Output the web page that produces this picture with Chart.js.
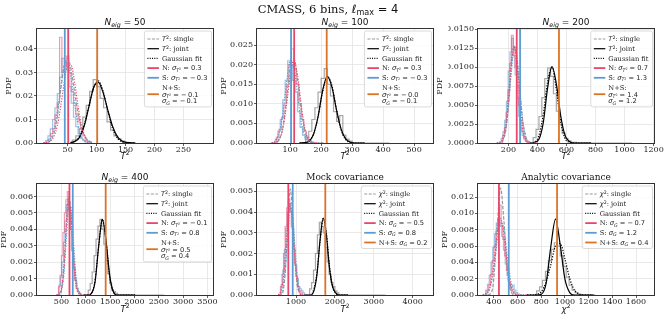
<!DOCTYPE html>
<html><head><meta charset="utf-8">
<script src="https://cdn.jsdelivr.net/npm/chart.js@4.4.1/dist/chart.umd.min.js"></script>
<style>html,body{margin:0;padding:0;background:#fff;}#wrap{position:relative;width:664px;height:320px;}canvas{position:absolute;left:0;top:0;}</style>
</head><body><div id="wrap"></div>
<script>
// ---------------- DATA ----------------
// Panel 1: N_eig = 50
const p1_xTicks=[50,100,150,200,250], p1_yTicks=[0,0.01,0.02,0.03,0.04];
const p1_obs=[51,45,101];
const p1_binN=[16,4], p1_hN=[0.0005,0.0015,0.004,0.006,0.012,0.017,0.045,0.030,0.033,0.037,0.030,0.022,0.017,0.012,0.009,0.006,0.003,0.001,0.0005];
const p1_binS=[12,4], p1_hS=[0.0003,0.001,0.003,0.006,0.010,0.015,0.021,0.028,0.036,0.034,0.031,0.024,0.017,0.011,0.007,0.004,0.002,0.001,0.0004];
const p1_binJ=[58,6], p1_hJ=[0.0005,0.0012,0.0030,0.0060,0.011,0.016,0.022,0.027,0.024,0.019,0.015,0.009,0.0055,0.003,0.0018,0.0008,0.0003,0.0002];
const p1_sx=[8,14,20,26,32,38,44,50,56,62,68,74,80,86,92];
const p1_single=[0.0000,0.0002,0.0010,0.0040,0.0110,0.0225,0.0330,0.0360,0.0310,0.0215,0.0125,0.0062,0.0027,0.0010,0.0003];
const p1_fitN=[0.0000,0.0002,0.0008,0.0027,0.0073,0.0156,0.0257,0.0329,0.0329,0.0257,0.0156,0.0073,0.0027,0.0008,0.0002];
const p1_fitS=[0.0001,0.0004,0.0018,0.0056,0.0133,0.0240,0.0329,0.0345,0.0274,0.0166,0.0077,0.0027,0.0007,0.0002,0.0000];
const p1_jx=[55,63,71,79,87,95,103,111,119,127,135,143,151,159,167];
const p1_joint=[0.0001,0.0007,0.0026,0.0076,0.0158,0.0237,0.0258,0.0216,0.0143,0.0075,0.0031,0.0010,0.0003,0.0001,0.0000];
const p1_fitJ=[0.0002,0.0009,0.0031,0.0082,0.0161,0.0237,0.0264,0.0221,0.0140,0.0066,0.0024,0.0006,0.0001,0.0000,0.0000];
const p1_legend=[['$T^2$: single'],['$T^2$: joint'],['Gaussian fit'],['N: $\\sigma_{T^2} = 0.3$'],['S: $\\sigma_{T^2} = -0.3$'],['N+S:','$\\sigma_{T^2} = -0.1$','$\\sigma_G = -0.1$']];

// Panel 2: N_eig = 100
const p2_xTicks=[100,200,300,400,500], p2_yTicks=[0,0.005,0.010,0.015,0.020,0.025];
const p2_obs=[113,103,218];
const p2_binN=[56,8], p2_hN=[0.0006,0.0015,0.0035,0.0065,0.010,0.015,0.020,0.024,0.019,0.015,0.010,0.006,0.003,0.0015,0.0006,0.0002];
const p2_binS=[52,8], p2_hS=[0.0005,0.001,0.003,0.006,0.011,0.016,0.021,0.020,0.016,0.013,0.008,0.004,0.002,0.001,0.0004,0.0002];
const p2_binJ=[150,10], p2_hJ=[0.0005,0.0015,0.003,0.006,0.009,0.013,0.0165,0.019,0.015,0.012,0.008,0.0055,0.007,0.002,0.001,0.0005,0,0,0,0,0,0,0,0,0,0,0];
const p2_sx=[40,52,64,76,88,100,112,124,136,148,160,172,184,196,208];
const p2_single=[0.0000,0.0001,0.0008,0.0038,0.0110,0.0197,0.0216,0.0160,0.0083,0.0030,0.0007,0.0001,0.0000,0.0000,0.0000];
const p2_fitN=[0.0000,0.0001,0.0009,0.0035,0.0095,0.0172,0.0210,0.0172,0.0095,0.0035,0.0009,0.0001,0.0000,0.0000,0.0000];
const p2_fitS=[0.0001,0.0005,0.0024,0.0073,0.0151,0.0210,0.0197,0.0124,0.0052,0.0015,0.0003,0.0000,0.0000,0.0000,0.0000];
const p2_jx=[130,145,160,175,190,205,220,235,250,265,280,295,310,325,340];
const p2_joint=[0.0000,0.0001,0.0004,0.0021,0.0067,0.0135,0.0170,0.0142,0.0083,0.0034,0.0010,0.0002,0.0000,0.0000,0.0000];
const p2_fitJ=[0.0000,0.0001,0.0005,0.0023,0.0067,0.0131,0.0169,0.0146,0.0083,0.0032,0.0008,0.0001,0.0000,0.0000,0.0000];
const p2_legend=[['$T^2$: single'],['$T^2$: joint'],['Gaussian fit'],['N: $\\sigma_{T^2} = 0.3$'],['S: $\\sigma_{T^2} = -0.3$'],['N+S:','$\\sigma_{T^2} = -0.0$','$\\sigma_G = -0.1$']];

// Panel 3: N_eig = 200
const p3_xTicks=[200,400,600,800,1000,1200], p3_yTicks=[0,0.0025,0.005,0.0075,0.01,0.0125,0.015];
const p3_obs=[257,280,548];
const p3_binN=[160,12], p3_hN=[0.0003,0.001,0.002,0.004,0.007,0.0105,0.0142,0.0125,0.010,0.0075,0.005,0.003,0.0015,0.0007,0.0003];
const p3_binS=[150,12], p3_hS=[0.0002,0.0006,0.0015,0.003,0.0055,0.0095,0.012,0.0138,0.0115,0.009,0.006,0.0035,0.002,0.001,0.0005,0.0002];
const p3_binJ=[370,20], p3_hJ=[0.0002,0.0007,0.0018,0.0035,0.006,0.0085,0.0099,0.0088,0.0065,0.0042,0.0025,0.0013,0.0006,0.0003,0.0001,0.0001,0,0,0,0,0,0,0,0,0,0,0,0,0,0,0,0,0,0];
const p3_sx=[120,140,160,180,200,220,240,260,280,300,320,340,360,380,400];
const p3_single=[0.0000,0.0000,0.0003,0.0015,0.0049,0.0101,0.0128,0.0108,0.0064,0.0027,0.0008,0.0002,0.0000,0.0000,0.0000];
const p3_fitN=[0.0000,0.0001,0.0005,0.0022,0.0060,0.0108,0.0128,0.0099,0.0051,0.0017,0.0004,0.0001,0.0000,0.0000,0.0000];
const p3_fitS=[0.0000,0.0001,0.0004,0.0017,0.0049,0.0094,0.0124,0.0110,0.0066,0.0027,0.0007,0.0001,0.0000,0.0000,0.0000];
const p3_jx=[350,380,410,440,470,500,530,560,590,620,650,680,710,740,770];
const p3_joint=[0.0000,0.0001,0.0005,0.0027,0.0073,0.0101,0.0078,0.0036,0.0010,0.0002,0.0000,0.0000,0.0000,0.0000,0.0000];
const p3_fitJ=[0.0000,0.0001,0.0010,0.0038,0.0081,0.0100,0.0070,0.0028,0.0006,0.0001,0.0000,0.0000,0.0000,0.0000,0.0000];
const p3_legend=[['$T^2$: single'],['$T^2$: joint'],['Gaussian fit'],['N: $\\sigma_{T^2} = 0.7$'],['S: $\\sigma_{T^2} = 1.3$'],['N+S:','$\\sigma_{T^2} = 1.4$','$\\sigma_G = 1.2$']];

// Panel 4: N_eig = 400
const p4_xTicks=[500,1000,1500,2000,2500,3000,3500], p4_yTicks=[0,0.001,0.002,0.003,0.004,0.005,0.006];
const p4_obs=[664,732,1408];
const p4_binN=[440,30], p4_hN=[0.0002,0.0005,0.0012,0.0024,0.0038,0.0050,0.0058,0.0063,0.0052,0.0040,0.0027,0.0016,0.0009,0.0004,0.0002,0.0001];
const p4_binS=[450,30], p4_hS=[0.0002,0.0006,0.0011,0.0020,0.0032,0.0045,0.0055,0.0058,0.0050,0.0040,0.0028,0.0017,0.0009,0.0004,0.0002,0.0001];
const p4_binJ=[1050,40], p4_hJ=[0.0001,0.0003,0.0007,0.0014,0.0024,0.0034,0.0042,0.0046,0.0040,0.0031,0.0021,0.0013,0.0007,0.0003,0.0002,0.0001,0,0,0,0,0,0,0,0,0,0,0,0,0,0,0,0,0,0,0,0,0,0,0];
const p4_sx=[400,450,500,550,600,650,700,750,800,850,900,950,1000,1050,1100];
const p4_single=[0.0000,0.0000,0.0003,0.0016,0.0043,0.0060,0.0048,0.0024,0.0008,0.0002,0.0000,0.0000,0.0000,0.0000,0.0000];
const p4_fitN=[0.0000,0.0001,0.0004,0.0018,0.0042,0.0058,0.0047,0.0022,0.0006,0.0001,0.0000,0.0000,0.0000,0.0000,0.0000];
const p4_fitS=[0.0000,0.0000,0.0003,0.0013,0.0034,0.0054,0.0053,0.0031,0.0011,0.0002,0.0000,0.0000,0.0000,0.0000,0.0000];
const p4_jx=[965,1040,1115,1190,1265,1340,1415,1490,1565,1640,1715,1790,1865,1940,2015];
const p4_joint=[0.0000,0.0000,0.0001,0.0008,0.0030,0.0046,0.0033,0.0012,0.0002,0.0000,0.0000,0.0000,0.0000,0.0000,0.0000];
const p4_fitJ=[0.0000,0.0000,0.0001,0.0009,0.0030,0.0046,0.0033,0.0011,0.0002,0.0000,0.0000,0.0000,0.0000,0.0000,0.0000];
const p4_legend=[['$T^2$: single'],['$T^2$: joint'],['Gaussian fit'],['N: $\\sigma_{T^2} = -0.1$'],['S: $\\sigma_{T^2} = 0.8$'],['N+S:','$\\sigma_{T^2} = 0.5$','$\\sigma_G = 0.4$']];

// Panel 5: Mock covariance
const p5_xTicks=[1000,2000,3000,4000], p5_yTicks=[0,0.001,0.002,0.003,0.004,0.005];
const p5_obs=[802,915,1753];
const p5_binN=[600,40], p5_hN=[0.0001,0.0004,0.0010,0.0020,0.0033,0.0042,0.0046,0.0040,0.0033,0.0024,0.0015,0.0009,0.0004,0.0002,0.0001];
const p5_binS=[620,40], p5_hS=[0.0002,0.0005,0.0012,0.0022,0.0032,0.0040,0.0044,0.0040,0.0032,0.0022,0.0014,0.0008,0.0004,0.0003,0.0002,0.0001];
const p5_binJ=[1350,50], p5_hJ=[0.0001,0.0003,0.0006,0.0012,0.0020,0.0029,0.0035,0.0033,0.0030,0.0023,0.0016,0.0010,0.0006,0.0004,0.0002,0.0001,0,0,0,0,0,0,0,0,0,0,0,0,0,0,0,0,0,0,0,0,0,0,0];
const p5_sx=[550,610,670,730,790,850,910,970,1030,1090,1150,1210,1270,1330,1390];
const p5_single=[0.0000,0.0000,0.0002,0.0013,0.0036,0.0051,0.0040,0.0019,0.0005,0.0001,0.0000,0.0000,0.0000,0.0000,0.0000];
const p5_fitN=[0.0000,0.0002,0.0007,0.0020,0.0037,0.0044,0.0034,0.0017,0.0006,0.0001,0.0000,0.0000,0.0000,0.0000,0.0000];
const p5_fitS=[0.0000,0.0001,0.0004,0.0014,0.0029,0.0042,0.0039,0.0024,0.0009,0.0002,0.0000,0.0000,0.0000,0.0000,0.0000];
const p5_jx=[1220,1300,1380,1460,1540,1620,1700,1780,1860,1940,2020,2100,2180,2260,2340];
const p5_joint=[0.0000,0.0000,0.0000,0.0002,0.0010,0.0027,0.0037,0.0029,0.0013,0.0004,0.0001,0.0000,0.0000,0.0000,0.0000];
const p5_fitJ=[0.0000,0.0000,0.0000,0.0003,0.0011,0.0026,0.0037,0.0030,0.0014,0.0004,0.0001,0.0000,0.0000,0.0000,0.0000];
const p5_legend=[['$\\chi^2$: single'],['$\\chi^2$: joint'],['Gaussian fit'],['N: $\\sigma_G = -0.5$'],['S: $\\sigma_G = 0.8$'],['N+S: $\\sigma_G = 0.2$']];

// Panel 6: Analytic covariance
const p6_xTicks=[400,600,800,1000,1200,1400,1600], p6_yTicks=[0,0.002,0.004,0.006,0.008,0.010,0.012];
const p6_obs=[442,525,933];
const p6_binN=[340,15], p6_hN=[0.0002,0.0005,0.0012,0.0025,0.0042,0.0060,0.0078,0.0092,0.0110,0.0085,0.0068,0.0048,0.0030,0.0017,0.0009,0.0004,0.0002];
const p6_binS=[330,15], p6_hS=[0.0003,0.0006,0.0013,0.0024,0.0040,0.0058,0.0075,0.0088,0.0092,0.0084,0.0072,0.0055,0.0038,0.0024,0.0014,0.0010,0.0012,0.0006,0.0003,0.0001];
const p6_binJ=[760,25], p6_hJ=[0.0002,0.0005,0.0010,0.0018,0.0029,0.0042,0.0056,0.0064,0.0060,0.0048,0.0035,0.0022,0.0012,0.0006,0.0003,0.0001,0,0,0,0];
const p6_sx=[305,335,365,395,425,455,485,515,545,575,605,635,665,695,725];
const p6_single=[0.0000,0.0000,0.0001,0.0015,0.0077,0.0131,0.0089,0.0028,0.0004,0.0000,0.0000,0.0000,0.0000,0.0000,0.0000];
const p6_fitN=[0.0000,0.0002,0.0009,0.0034,0.0073,0.0094,0.0073,0.0034,0.0009,0.0002,0.0000,0.0000,0.0000,0.0000,0.0000];
const p6_fitS=[0.0000,0.0001,0.0008,0.0028,0.0063,0.0089,0.0079,0.0044,0.0015,0.0003,0.0000,0.0000,0.0000,0.0000,0.0000];
const p6_jx=[680,720,760,800,840,880,920,960,1000,1040,1080,1120,1160,1200,1240];
const p6_joint=[0.0000,0.0000,0.0000,0.0001,0.0014,0.0059,0.0093,0.0061,0.0019,0.0003,0.0000,0.0000,0.0000,0.0000,0.0000];
const p6_fitJ=[0.0000,0.0000,0.0001,0.0004,0.0016,0.0037,0.0060,0.0063,0.0044,0.0020,0.0006,0.0001,0.0000,0.0000,0.0000];
const p6_legend=[['$\\chi^2$: single'],['$\\chi^2$: joint'],['Gaussian fit'],['N: $\\sigma_G = -0.7$'],['S: $\\sigma_G = 1.2$'],['N+S: $\\sigma_G = 0.4$']];

const mainTitle='CMASS, 6 bins, $\\ell_{\\mathrm{max}} = 4$';

// ---------------- LAYOUT / STYLE ----------------
const C={red:'#e8476d',blue:'#5d9bd3',orange:'#dc7428',redA:'rgba(232,71,109,0.55)',blueA:'rgba(93,155,211,0.6)',grayA:'rgba(95,95,95,0.55)'};
const SERIF='"DejaVu Serif", serif', SANS='"DejaVu Sans", sans-serif';
const panels=[
 {rect:[37,29,213,143],xly:15.5,xr:[-3,301],yr:[0,0.0485],yd:2,title:'$N_{eig} = 50$',xl:'$T^2$',xt:p1_xTicks,yt:p1_yTicks,obs:p1_obs,binN:p1_binN,hN:p1_hN,binS:p1_binS,hS:p1_hS,binJ:p1_binJ,hJ:p1_hJ,sx:p1_sx,single:p1_single,fitN:p1_fitN,fitS:p1_fitS,jx:p1_jx,joint:p1_joint,fitJ:p1_fitJ,legend:p1_legend},
 {rect:[257,29,433,143],xly:15.5,xr:[-7,561],yr:[0,0.0291],yd:3,title:'$N_{eig} = 100$',xl:'$T^2$',xt:p2_xTicks,yt:p2_yTicks,obs:p2_obs,binN:p2_binN,hN:p2_hN,binS:p2_binS,hS:p2_hS,binJ:p2_binJ,hJ:p2_hJ,sx:p2_sx,single:p2_single,fitN:p2_fitN,fitS:p2_fitS,jx:p2_jx,joint:p2_joint,fitJ:p2_fitJ,legend:p2_legend},
 {rect:[478,29,654,143],xly:15.5,xr:[-10,1203],yr:[0,0.01505],yd:4,title:'$N_{eig} = 200$',xl:'$T^2$',xt:p3_xTicks,yt:p3_yTicks,obs:p3_obs,binN:p3_binN,hN:p3_hN,binS:p3_binS,hS:p3_hS,binJ:p3_binJ,hJ:p3_hJ,sx:p3_sx,single:p3_single,fitN:p3_fitN,fitS:p3_fitS,jx:p3_jx,joint:p3_joint,fitJ:p3_fitJ,legend:p3_legend},
 {rect:[37,184,213,295],xly:16.5,xr:[-3,3613],yr:[0,0.00676],yd:3,title:'$N_{eig} = 400$',xl:'$T^2$',xt:p4_xTicks,yt:p4_yTicks,obs:p4_obs,binN:p4_binN,hN:p4_hN,binS:p4_binS,hS:p4_hS,binJ:p4_binJ,hJ:p4_hJ,sx:p4_sx,single:p4_single,fitN:p4_fitN,fitS:p4_fitS,jx:p4_jx,joint:p4_joint,fitJ:p4_fitJ,legend:p4_legend},
 {rect:[257,184,433,295],xly:16.5,xr:[-3,4522],yr:[0,0.00535],yd:3,title:'Mock covariance',xl:'$T^2$',xt:p5_xTicks,yt:p5_yTicks,obs:p5_obs,binN:p5_binN,hN:p5_hN,binS:p5_binS,hS:p5_hS,binJ:p5_binJ,hJ:p5_hJ,sx:p5_sx,single:p5_single,fitN:p5_fitN,fitS:p5_fitS,jx:p5_jx,joint:p5_joint,fitJ:p5_fitJ,legend:p5_legend},
 {rect:[478,184,654,295],xly:16.5,xr:[265,1752],yr:[0,0.0136],yd:3,title:'Analytic covariance',xl:'$\\chi^2$',xt:p6_xTicks,yt:p6_yTicks,obs:p6_obs,binN:p6_binN,hN:p6_hN,binS:p6_binS,hS:p6_hS,binJ:p6_binJ,hJ:p6_hJ,sx:p6_sx,single:p6_single,fitN:p6_fitN,fitS:p6_fitS,jx:p6_jx,joint:p6_joint,fitJ:p6_fitJ,legend:p6_legend}
];

// ---------------- RICH TEXT ----------------
function readGroup(s,i){ if(s[i]==='{'){let d=1,j=i+1;while(d>0&&j<s.length){if(s[j]==='{')d++;else if(s[j]==='}')d--;j++;}return{str:s.slice(i+1,j-1),end:j};} return{str:s[i],end:i+1}; }
function parseMath(s,lv,out){
  let i=0;
  while(i<s.length){
    const c=s[i];
    if(c==='\\'){const m=/^[a-zA-Z]+/.exec(s.slice(i+1))[0];i+=1+m.length;
      if(m==='mathrm'){const g=readGroup(s,i);i=g.end;out.push({t:g.str,fam:SANS,it:false,lv});}
      else out.push({t:({sigma:'σ',chi:'χ',ell:'ℓ'})[m]||m,fam:SANS,it:true,lv});}
    else if(c==='^'||c==='_'){const g=readGroup(s,i+1);i=g.end;parseMath(g.str,lv.concat([c]),out);}
    else if(c===' '){i++;}
    else if(c==='='){out.push({t:' = ',fam:SANS,it:false,lv});i++;}
    else if(c==='-'){out.push({t:'−\u2009',fam:SANS,it:false,lv});i++;}
    else if(/[A-Za-z]/.test(c)){out.push({t:c,fam:SANS,it:true,lv});i++;}
    else {out.push({t:c,fam:SANS,it:false,lv});i++;}
  }
}
function parseRich(str){const segs=[];str.split('$').forEach((p,i)=>{if(!p)return;if(i%2===0)segs.push({t:p,fam:SERIF,it:false,lv:[]});else parseMath(p,[],segs);});return segs;}
function layoutRich(ctx,str,fs){
  let x=0;const items=[];
  parseRich(str).forEach(sg=>{let size=fs,off=0;sg.lv.forEach(l=>{if(l==='^')off-=size*0.36;else off+=size*0.2;size*=0.7;});
    const font=(sg.it?'italic ':'')+size.toFixed(2)+'px '+sg.fam;ctx.font=font;const w=ctx.measureText(sg.t).width;items.push({t:sg.t,off,x,font});x+=w;});
  return{items,w:x};
}
function drawRich(ctx,str,fs,x,y,align){
  const L=layoutRich(ctx,str,fs);const x0=align==='center'?x-L.w/2:(align==='right'?x-L.w:x);
  ctx.textAlign='left';ctx.textBaseline='alphabetic';
  L.items.forEach(it=>{ctx.font=it.font;ctx.fillText(it.t,x0+it.x,y+it.off);});return L.w;
}

// ---------------- HELPERS ----------------
function histPts(bin,h){const p=[{x:bin[0],y:0}];h.forEach((v,i)=>p.push({x:bin[0]+i*bin[1],y:v}));p.push({x:bin[0]+h.length*bin[1],y:0});return p;}
function curvePts(xs,ys){return xs.map((x,i)=>({x,y:ys[i]}));}

function drawLegend(ctx,ca,P){
  const fs=6.7;let maxW=0;
  P.legend.forEach(e=>e.forEach(l=>{maxW=Math.max(maxW,layoutRich(ctx,l,fs).w);}));
  const w=17.5+maxW+4;
  const rows=[];let cur=8;
  P.legend.forEach(e=>{const cs=e.map((l,k)=>cur+k*6.7);rows.push(cs);cur+=9.7+(e.length-1)*6.7;});
  const last=rows[rows.length-1];const h=last[last.length-1]+6;
  const bx=ca.right-1.5-w,by=ca.top+2;
  ctx.save();
  ctx.beginPath();if(ctx.roundRect)ctx.roundRect(bx,by,w,h,2);else ctx.rect(bx,by,w,h);
  ctx.fillStyle='rgba(255,255,255,0.85)';ctx.fill();ctx.strokeStyle='#d0d0d0';ctx.lineWidth=0.8;ctx.stroke();
  const kinds=[{c:'#999',d:[3,1.5],w:1.2},{c:'#000',d:[],w:1.2},{c:'#000',d:[1,1.3],w:1.2},{c:C.red,d:[],w:1.8},{c:C.blue,d:[],w:1.8},{c:C.orange,d:[],w:1.8}];
  P.legend.forEach((e,i)=>{const cs=rows[i];const hy=by+(cs[0]+cs[cs.length-1])/2;const k=kinds[i];
    ctx.strokeStyle=k.c;ctx.lineWidth=k.w;ctx.setLineDash(k.d);ctx.beginPath();ctx.moveTo(bx+3,hy);ctx.lineTo(bx+14.5,hy);ctx.stroke();ctx.setLineDash([]);
    ctx.fillStyle='#222';e.forEach((l,j)=>drawRich(ctx,l,fs,bx+17.5,by+cs[j]+fs*0.35,'left'));});
  ctx.restore();
}

const deco={id:'deco',afterDatasetsDraw(chart,args,o){
  const ctx=chart.ctx,ca=chart.chartArea,P=o.panel,xs=chart.scales.x;
  ctx.save();ctx.beginPath();ctx.rect(ca.left,ca.top,ca.width,ca.height);ctx.clip();
  [[P.obs[0],C.red],[P.obs[1],C.blue],[P.obs[2],C.orange]].forEach(([v,c])=>{const px=xs.getPixelForValue(v);ctx.strokeStyle=c;ctx.lineWidth=1.8;ctx.beginPath();ctx.moveTo(px,ca.top);ctx.lineTo(px,ca.bottom);ctx.stroke();});
  ctx.restore();
  ctx.save();ctx.strokeStyle='#333';ctx.lineWidth=1;ctx.strokeRect(ca.left-0.5,ca.top-0.5,ca.width+1,ca.height+1);ctx.restore();
  drawLegend(ctx,ca,P);
  ctx.save();ctx.fillStyle='#111';
  drawRich(ctx,P.title,9,(ca.left+ca.right)/2,ca.top-4,'center');
  drawRich(ctx,P.xl,8.5,(ca.left+ca.right)/2,ca.bottom+P.xly,'center');
  ctx.font='8px '+SERIF;let lw=0;P.yt.forEach(v=>{lw=Math.max(lw,ctx.measureText(v.toFixed(P.yd)).width);});
  const lx=ca.left-4-lw-6;ctx.translate(lx,(ca.top+ca.bottom)/2);ctx.rotate(-Math.PI/2);ctx.textAlign='center';ctx.textBaseline='middle';ctx.fillStyle='#111';ctx.fillText('PDF',0,0);
  ctx.restore();
  if(o.main){ctx.save();ctx.fillStyle='#111';drawRich(ctx,mainTitle,11.5,328,12.5,'center');ctx.restore();}
}};

const W=664,H=320,YW=30,XH=14;
const wrap=document.getElementById('wrap');
panels.forEach((P,idx)=>{
  const cv=document.createElement('canvas');cv.width=W;cv.height=H;cv.style.width=W+'px';cv.style.height=H+'px';wrap.appendChild(cv);
  const [L,T,R,B]=P.rect;
  const ln=(data,color,dash,w)=>({data,borderColor:color,borderDash:dash,borderWidth:w,pointRadius:0,fill:false,tension:0.4,cubicInterpolationMode:'monotone'});
  const hs=(data,color)=>({data,borderColor:color,borderWidth:1.2,pointRadius:0,fill:false,stepped:'after'});
  new Chart(cv,{type:'line',
    data:{datasets:[
      ln(curvePts(P.sx,P.fitN),C.red,[1.2,1.5],1.2),
      ln(curvePts(P.sx,P.fitS),C.blue,[1.2,1.5],1.2),
      ln(curvePts(P.jx,P.fitJ),'#000',[1.2,1.5],1.2),
      ln(curvePts(P.jx,P.joint),'#000',[],1.2),
      ln(curvePts(P.sx,P.single),'#999',[3.5,1.6],1.2),
      hs(histPts(P.binN,P.hN),C.redA),
      hs(histPts(P.binS,P.hS),C.blueA),
      hs(histPts(P.binJ,P.hJ),C.grayA)
    ]},
    options:{responsive:false,animation:false,devicePixelRatio:1,
      layout:{padding:{left:L-YW,top:T,right:W-R,bottom:H-B-XH}},
      plugins:{legend:{display:false},tooltip:{enabled:false},deco:{panel:P,main:idx===0}},
      scales:{
        x:{type:'linear',min:P.xr[0],max:P.xr[1],
          afterBuildTicks:s=>{s.ticks=P.xt.map(v=>({value:v}));},
          afterFit:s=>{s.height=XH;s.paddingLeft=0;s.paddingRight=0;},
          ticks:{autoSkip:false,maxRotation:0,padding:-1,color:'#222',font:{family:SERIF,size:8},callback:v=>String(v)},
          grid:{color:'#e3e3e3',lineWidth:0.8,tickColor:'#333',tickLength:3},border:{display:false}},
        y:{type:'linear',min:P.yr[0],max:P.yr[1],
          afterBuildTicks:s=>{s.ticks=P.yt.map(v=>({value:v}));},
          afterFit:s=>{s.width=YW;s.paddingTop=0;s.paddingBottom=0;},
          ticks:{autoSkip:false,padding:1,color:'#222',font:{family:SERIF,size:8},callback:v=>Number(v).toFixed(P.yd)},
          grid:{color:'#e3e3e3',lineWidth:0.8,tickColor:'#333',tickLength:3},border:{display:false}}
      }},
    plugins:[deco]});
});
</script></body></html>
